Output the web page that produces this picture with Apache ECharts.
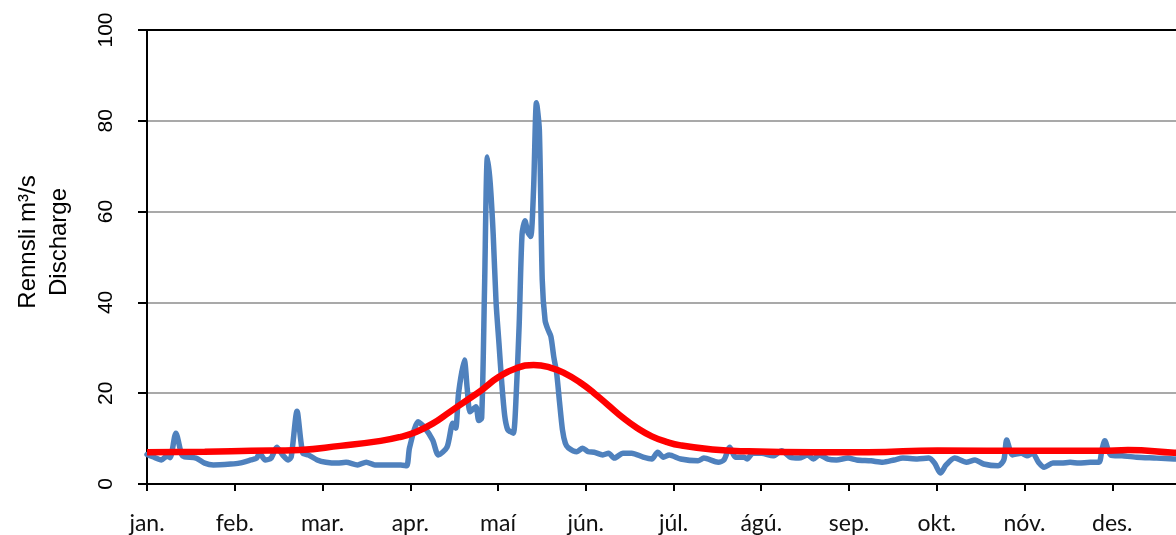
<!DOCTYPE html>
<html>
<head>
<meta charset="utf-8">
<script src="https://cdn.jsdelivr.net/npm/echarts@6/dist/echarts.min.js"></script>
<style>html,body{margin:0;padding:0;background:#fff;}#c{width:1176px;height:535px;}</style>
</head>
<body>
<div id="c"></div>
<script>
var monthLabels = ['jan.','feb.','mar.','apr.','maí','jún.','júl.','ágú.','sep.','okt.','nóv.','des.'];
var yTicks = [0, 20, 40, 60, 80, 100];
var dischargeDays = [0,2,5,7,8,10,12,13,17,20,23,29,32,36,38,39,41,43,45,47,49,50,52,54,56,59,62,66,69,73,76,79,83,88,90,91,94,96,99,101,104,106,107,108,110,111,112,114,115,116,117,118,119,120,121,122,123,124,125,126,127,128,129,130,131,132,133,134,135,136,137,138,139,140,141,142,143,144,145,146,149,151,153,155,158,160,162,165,168,172,175,177,179,181,185,191,193,198,200,202,204,207,208,210,213,217,220,223,226,229,231,233,236,239,243,246,251,255,259,262,267,271,273,275,277,280,284,287,290,295,297,298,300,303,305,307,309,311,314,317,320,323,327,330,331,332,334,338,343,350,356,364];
var dischargeValues = [6.5,6.0,5.3,6.2,5.8,11.2,6.5,6.0,5.7,4.6,4.2,4.4,4.6,5.3,5.7,6.8,5.3,5.7,8.1,6.4,5.3,6.0,16.0,6.8,6.4,5.3,4.8,4.6,4.8,4.2,4.8,4.2,4.2,4.2,4.0,8.0,13.7,12.6,9.7,6.4,8.1,13.4,12.3,20,27.3,21,15.9,17,14,14.5,43,72,66,55,40,31,22,15,12,11.5,11.2,20,35,55,58,55.5,54.5,65,84,78,45,36,34,32.5,28,24.4,18,12,9,8,7.1,7.9,7.1,7.0,6.4,6.8,5.7,6.8,6.8,5.9,5.5,7.0,5.9,6.4,5.5,5.1,5.7,4.8,5.3,8.1,5.9,5.9,5.5,6.8,6.8,6.2,7.3,5.9,5.7,6.4,5.5,6.4,5.5,5.3,5.7,5.3,5.1,4.8,5.3,5.7,5.5,5.7,4.6,2.4,4.2,5.7,4.8,5.3,4.4,4.0,5.3,9.7,6.4,6.8,6.2,6.8,4.8,3.7,4.6,4.6,4.8,4.6,4.8,4.8,7.5,9.5,6.4,6.2,5.9,5.7,5.5,5.3];
var meanDays = [0,20,36,53,67,81,88,93,99,105,111,116,122,128,134,140,145,150,155,160,165,170,175,180,185,196,208,231,250,274,308,331,340,356,364];
var meanValues = [7.0,7.1,7.3,7.5,8.4,9.5,10.4,11.4,13.3,15.9,18.5,20.7,23.6,25.5,26.2,25.6,24.3,22.4,20.0,17.3,14.6,12.3,10.5,9.3,8.5,7.6,7.2,7.0,7.0,7.4,7.3,7.3,7.5,6.9,6.7];

var DAYS = 365;
var monthStep = DAYS / 12;
function pairs(xs, ys){ return xs.map(function(x,i){ return [x, ys[i]]; }); }

var chart = echarts.init(document.getElementById('c'), null, {renderer:'canvas'});
chart.setOption({
  animation: false,
  backgroundColor: '#ffffff',
  grid: { left: 147, top: 30, bottom: 51, width: 1053, containLabel: false, outerBoundsMode: 'none' },
  xAxis: [{
    type: 'value', min: 0, max: DAYS, interval: monthStep,
    axisLine: { show: true, onZero: false, lineStyle: { color: '#000', width: 2 } },
    axisTick: { show: true, inside: false, length: 7, lineStyle: { color: '#000', width: 2 } },
    splitLine: { show: false },
    axisLabel: {
      margin: 28, color: '#111', fontFamily: 'Lato', fontSize: 23, hideOverlap: false,
      formatter: function(v){ var k = Math.round(v / monthStep); return (k >= 0 && k < 12) ? monthLabels[k] : ''; }
    }
  }, {
    type: 'value', position: 'top', min: 0, max: DAYS,
    axisLine: { show: true, onZero: false, lineStyle: { color: '#000', width: 2 } },
    axisTick: { show: false }, axisLabel: { show: false }, splitLine: { show: false }
  }],
  yAxis: {
    type: 'value', min: yTicks[0], max: yTicks[yTicks.length-1], interval: 20,
    axisLine: { show: true, lineStyle: { color: '#000', width: 2 } },
    axisTick: { show: true, inside: false, length: 9, lineStyle: { color: '#000', width: 2 } },
    splitLine: { show: true, lineStyle: { color: '#8c8c8c', width: 1.5 } },
    axisLabel: { rotate: 90, margin: 30, color: '#000', fontFamily: 'Liberation Sans', fontSize: 21 }
  },
  graphic: [{
    type: 'text', x: 44, y: 242, rotation: Math.PI / 2,
    style: {
      text: 'Rennsli m³/s\nDischarge', fill: '#000', font: '24px "Liberation Sans"',
      align: 'center', verticalAlign: 'middle', lineHeight: 31
    }
  }],
  series: [{
    type: 'line', xAxisIndex: 0, data: pairs(dischargeDays, dischargeValues),
    showSymbol: false, smooth: 0.25, z: 2,
    lineStyle: { color: '#4F81BD', width: 5.5, cap: 'round', join: 'round' }
  }, {
    type: 'line', xAxisIndex: 0, data: pairs(meanDays, meanValues),
    showSymbol: false, smooth: 0.5, z: 3,
    lineStyle: { color: '#FF0000', width: 6.5 }
  }]
});
</script>
</body>
</html>
